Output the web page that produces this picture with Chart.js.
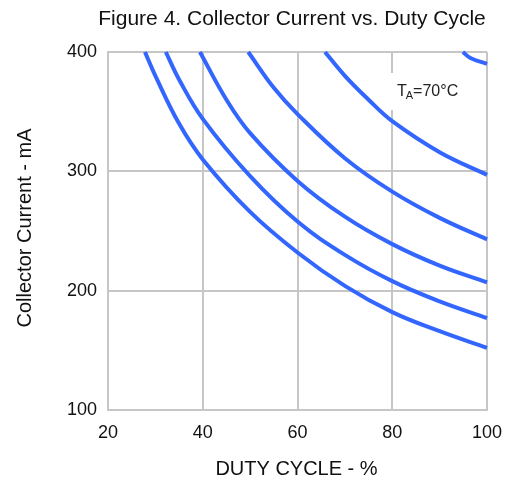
<!DOCTYPE html>
<html>
<head>
<meta charset="utf-8">
<script src="https://cdn.jsdelivr.net/npm/chart.js@4.4.0/dist/chart.umd.min.js"></script>
<style>
html,body{margin:0;padding:0;background:#fff;}
#wrap{width:505px;height:477px;position:relative;}
</style>
</head>
<body>
<div id="wrap"><canvas id="c" width="505" height="477"></canvas></div>
<script>
// Duty cycle (%) x-values and collector current (mA) for each curve
const curve1X = [27.8, 30, 35, 40, 50, 60, 70, 80, 90, 100];
const curve1Y = [400, 380, 340, 310, 266, 232, 204, 182, 166, 152];
const curve2X = [32.2, 35, 40, 50, 60, 70, 80, 90, 100];
const curve2Y = [400, 377, 344, 296, 258, 230, 208, 191, 177];
const curve3X = [39.4, 45, 50, 60, 70, 80, 90, 100];
const curve3Y = [400, 360, 332, 292, 262, 239, 221, 207];
const curve4X = [49.6, 55, 60, 70, 80, 90, 100];
const curve4Y = [400, 370, 348, 311, 283, 261, 243];
const curve5X = [65.8, 70, 75, 80, 90, 100];
const curve5Y = [400, 380, 360, 342, 316, 297];
const curve6X = [94.9, 96.5, 100];
const curve6Y = [400, 395, 390];

const xTicks = [20, 40, 60, 80, 100];
const yTicks = [100, 200, 300, 400];

const titleText = 'Figure 4. Collector Current vs. Duty Cycle';
const xTitle = 'DUTY CYCLE - %';
const yTitle = 'Collector Current - mA';

const FONT = '"Liberation Sans", Arial, sans-serif';
const LINE = '#3366ff';

function pts(xs, ys){ return xs.map((x,i)=>({x:x, y:ys[i]})); }
const series = [[curve1X,curve1Y],[curve2X,curve2Y],[curve3X,curve3Y],[curve4X,curve4Y],[curve5X,curve5Y],[curve6X,curve6Y]];

const decor = {
  id:'decor',
  afterDatasetsDraw(chart){
    const ctx = chart.ctx;
    ctx.save();
    ctx.fillStyle = '#fff';
    ctx.fillRect(386, 73, 86, 37);
    ctx.fillStyle = '#222';
    ctx.textBaseline = 'alphabetic';
    ctx.textAlign = 'left';
    ctx.font = '16px ' + FONT;
    ctx.fillText('T', 397, 96);
    const w = ctx.measureText('T').width;
    ctx.font = '11px ' + FONT;
    ctx.fillText('A', 397 + w - 1, 99);
    const w2 = ctx.measureText('A').width;
    ctx.font = '16px ' + FONT;
    ctx.fillText('=70°C', 397 + w - 1 + w2, 96);
    ctx.restore();
  },
  afterDraw(chart){
    const ctx = chart.ctx;
    ctx.save();
    ctx.fillStyle = '#111';
    ctx.textAlign = 'center';
    ctx.textBaseline = 'middle';
    ctx.font = '21px ' + FONT;
    ctx.fillText(titleText, 292, 19);
    ctx.font = '20px ' + FONT;
    ctx.fillText(xTitle, 296.5, 469);
    ctx.translate(25, 228);
    ctx.rotate(-Math.PI/2);
    ctx.fillText(yTitle, 0, 0);
    ctx.restore();
  }
};

new Chart(document.getElementById('c'), {
  type: 'scatter',
  data: {
    datasets: series.map(s => ({
      data: pts(s[0], s[1]),
      showLine: true,
      borderColor: LINE,
      backgroundColor: LINE,
      borderWidth: 4,
      pointRadius: 0,
      tension: 0.4,
      fill: false,
      clip: 2
    }))
  },
  options: {
    responsive: false,
    animation: false,
    devicePixelRatio: 1,
    layout: { padding: { left: 0, right: 18, top: 52, bottom: 0 } },
    plugins: { legend: { display: false }, tooltip: { enabled: false }, title: { display: false } },
    scales: {
      x: {
        type: 'linear', min: 20, max: 100,
        afterBuildTicks(s){ s.ticks = xTicks.map(v => ({value: v})); },
        afterFit(s){ s.height = 67; s.paddingLeft = 0; s.paddingRight = 0; },
        grid: { color: '#c6c6c6', lineWidth: 2, drawTicks: false },
        border: { color: '#c6c6c6', width: 2 },
        ticks: { color: '#111', font: { family: FONT, size: 18 }, padding: 12, maxRotation: 0 }
      },
      y: {
        type: 'linear', min: 100, max: 400,
        afterBuildTicks(s){ s.ticks = yTicks.map(v => ({value: v})); },
        afterFit(s){ s.width = 108; s.paddingTop = 0; s.paddingBottom = 0; },
        grid: { color: '#c6c6c6', lineWidth: 2, drawTicks: false },
        border: { color: '#c6c6c6', width: 2 },
        ticks: { color: '#111', font: { family: FONT, size: 18 }, padding: 11 }
      }
    }
  },
  plugins: [decor]
});
</script>
</body>
</html>
